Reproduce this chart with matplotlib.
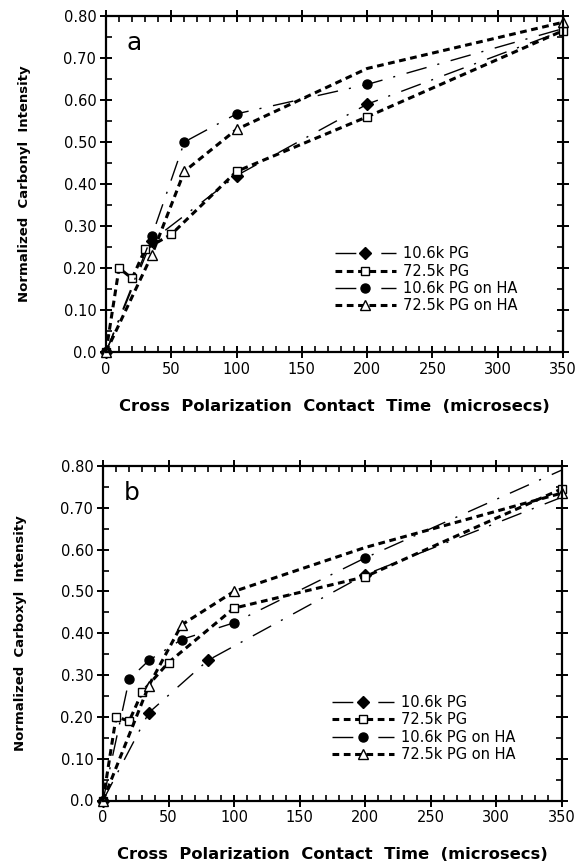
import matplotlib
matplotlib.use('Agg')
import matplotlib.pyplot as plt
from matplotlib.ticker import MultipleLocator

# panel a: carbonyl
a_pg10_x = [0, 35, 100, 200, 350]
a_pg10_y = [0, 0.265, 0.42, 0.59, 0.765]
a_pg72_x = [0, 10, 20, 30, 50, 100, 200, 350]
a_pg72_y = [0, 0.20, 0.175, 0.245, 0.28, 0.43, 0.56, 0.765]
a_ha10_x = [0, 35, 60, 100, 200, 350]
a_ha10_y = [0, 0.275, 0.50, 0.567, 0.637, 0.77]
a_ha72_x = [0, 35, 60, 100, 200, 350]
a_ha72_y = [0, 0.23, 0.43, 0.53, 0.675, 0.785]
a_ha72_marked = [0, 1, 2, 3, 5]

# panel b: carboxyl
b_pg10_x = [0, 35, 80, 200, 350]
b_pg10_y = [0, 0.21, 0.335, 0.54, 0.725]
b_pg72_x = [0, 10, 20, 30, 50, 100, 200, 350]
b_pg72_y = [0, 0.20, 0.19, 0.26, 0.33, 0.46, 0.535, 0.745]
b_ha10_x = [0, 20, 35, 60, 100, 200, 350]
b_ha10_y = [0, 0.29, 0.335, 0.385, 0.425, 0.58, 0.79]
b_ha72_x = [0, 35, 60, 100, 200, 350]
b_ha72_y = [0, 0.275, 0.42, 0.50, 0.605, 0.735]
b_ha72_marked = [0, 1, 2, 3, 5]

labels = ['10.6k PG', '72.5k PG', '10.6k PG on HA', '72.5k PG on HA']
xticks = [0, 50, 100, 150, 200, 250, 300, 350]
yticks = [0.0, 0.1, 0.2, 0.3, 0.4, 0.5, 0.6, 0.7, 0.8]
ytick_labels = ['0.0', '0.10', '0.20', '0.30', '0.40', '0.50', '0.60', '0.70', '0.80']

thin = dict(color='black', lw=1.0, dashes=(15, 8, 1.5, 8.5), clip_on=False)
heavy = dict(color='black', lw=2.2, dashes=(2.2, 1.5), clip_on=False)


def draw(ax, data, ylab, letter):
    (p10x, p10y), (p72x, p72y), (h10x, h10y), (h72x, h72y, h72m) = data
    # filled markers are hidden at the 350 end point, as in the original
    ax.plot(p10x, p10y, marker='D', ms=6, mfc='black', mec='black',
            markevery=list(range(len(p10x) - 1)), label=labels[0], **thin)
    ax.plot(p72x, p72y, marker='s', ms=5.5, mfc='white', mec='black', mew=1.0, label=labels[1], **heavy)
    ax.plot(h10x, h10y, marker='o', ms=6.5, mfc='black', mec='black',
            markevery=list(range(len(h10x) - 1)), label=labels[2], **thin)
    ax.plot(h72x, h72y, marker='^', ms=7, mfc='white', mec='black', mew=1.0,
            markevery=h72m, label=labels[3], **heavy)

    ax.set_xlim(0, 350)
    ax.set_ylim(0, 0.8)
    ax.set_xticks(xticks)
    ax.set_yticks(yticks)
    ax.set_yticklabels(ytick_labels)
    ax.xaxis.set_minor_locator(MultipleLocator(10))
    ax.yaxis.set_minor_locator(MultipleLocator(0.05))
    ax.tick_params(which='major', direction='inout', length=8, width=1.4,
                   top=True, right=True, labelsize=10.5, pad=3)
    ax.tick_params(which='minor', direction='in', length=4, width=1.2, top=True, right=True)
    for s in ax.spines.values():
        s.set_linewidth(1.6)

    ax.set_xlabel('Cross  Polarization  Contact  Time  (microsecs)', fontsize=11.8, fontweight='bold')
    ax.set_ylabel(ylab, fontsize=9.5, fontweight='bold')
    ax.xaxis.set_label_coords(0.5, -0.14)
    ax.yaxis.set_label_coords(-0.165, 0.5)
    ax.text(0.045, 0.955, letter, transform=ax.transAxes, fontsize=18, va='top', ha='left')

    leg = ax.legend(loc='center left', bbox_to_anchor=(0.5, 0.215), frameon=False,
                    fontsize=10.5, handlelength=4.2, handletextpad=0.5, labelspacing=0.15,
                    borderpad=0, borderaxespad=0, numpoints=1)
    return leg


fig = plt.figure(figsize=(5.78, 8.67), dpi=100)
ax_a = fig.add_axes([106 / 578, 1 - 352 / 867, 457 / 578, 336 / 867])
ax_b = fig.add_axes([103 / 578, 1 - 800.5 / 867, 458.5 / 578, 334.5 / 867])

draw(ax_a, [(a_pg10_x, a_pg10_y), (a_pg72_x, a_pg72_y), (a_ha10_x, a_ha10_y),
            (a_ha72_x, a_ha72_y, a_ha72_marked)],
     'Normalized  Carbonyl  Intensity', 'a')
draw(ax_b, [(b_pg10_x, b_pg10_y), (b_pg72_x, b_pg72_y), (b_ha10_x, b_ha10_y),
            (b_ha72_x, b_ha72_y, b_ha72_marked)],
     'Normalized  Carboxyl  Intensity', 'b')

fig.savefig('out.png', dpi=100)
